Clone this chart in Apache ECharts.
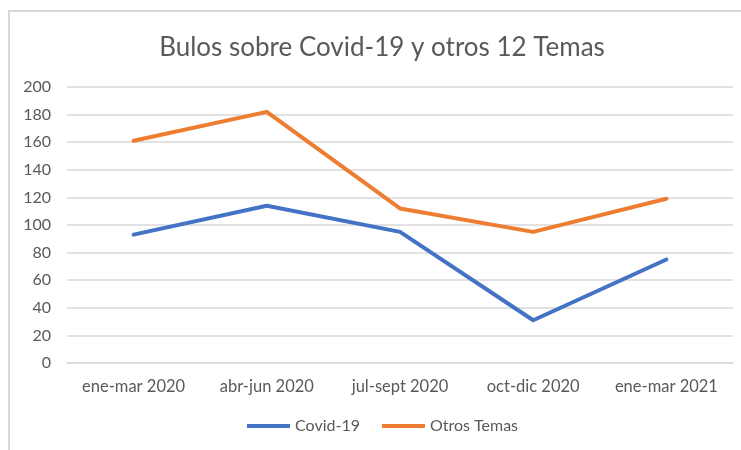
<!DOCTYPE html>
<html>
<head>
<meta charset="utf-8">
<script src="https://cdn.jsdelivr.net/npm/echarts@6/dist/echarts.min.js"></script>
<style>
html,body{margin:0;padding:0;background:#fff;}
#chart{width:741px;height:450px;}
</style>
</head>
<body>
<div id="chart"></div>
<script>
const titleText = 'Bulos sobre Covid-19 y otros 12 Temas';
const categories = ['ene-mar 2020', 'abr-jun 2020', 'jul-sept 2020', 'oct-dic 2020', 'ene-mar 2021'];
const covid = [93, 114, 95, 31, 75];
const otros = [161, 182, 112, 95, 119];
const seriesNames = ['Covid-19', 'Otros Temas'];
const yMin = 0, yMax = 200, yStep = 20;

const FONT = 'Lato';
const chart = echarts.init(document.getElementById('chart'), null, {renderer: 'canvas'});
chart.setOption({
  animation: false,
  backgroundColor: '#ffffff',
  graphic: [{
    type: 'rect',
    shape: {x: 9, y: 11, width: 760, height: 460},
    style: {fill: 'none', stroke: '#d9d9d9', lineWidth: 2},
    silent: true
  }],
  title: {
    text: titleText,
    left: 377,
    top: 30,
    textAlign: 'center',
    textStyle: {fontFamily: FONT, fontSize: 26, fontWeight: 'normal', color: '#595959'}
  },
  grid: {left: 67, right: 8, top: 87, bottom: 87, containLabel: false},
  xAxis: {
    type: 'category',
    data: categories,
    boundaryGap: true,
    axisLine: {show: true, lineStyle: {color: '#d9d9d9', width: 1.5}},
    axisTick: {show: false},
    axisLabel: {interval: 0, hideOverlap: false, margin: 15, fontFamily: FONT, fontSize: 16.5, color: '#595959'}
  },
  yAxis: {
    type: 'value',
    min: yMin, max: yMax, interval: yStep,
    axisLine: {show: false},
    axisTick: {show: false},
    splitLine: {lineStyle: {color: '#d9d9d9', width: 1.5}},
    axisLabel: {margin: 16, fontFamily: FONT, fontSize: 16, color: '#595959'}
  },
  legend: {
    data: seriesNames,
    left: 247,
    top: 418,
    padding: 0,
    icon: 'rect',
    itemWidth: 43,
    itemHeight: 4,
    itemGap: 22,
    textStyle: {fontFamily: FONT, fontSize: 16, color: '#595959'}
  },
  series: [
    {name: seriesNames[0], type: 'line', data: covid, showSymbol: false, symbol: 'none',
     lineStyle: {color: '#4472c4', width: 4, cap: 'round', join: 'round'}, itemStyle: {color: '#4472c4'}},
    {name: seriesNames[1], type: 'line', data: otros, showSymbol: false, symbol: 'none',
     lineStyle: {color: '#ed7d31', width: 4, cap: 'round', join: 'round'}, itemStyle: {color: '#ed7d31'}}
  ]
});
</script>
</body>
</html>
